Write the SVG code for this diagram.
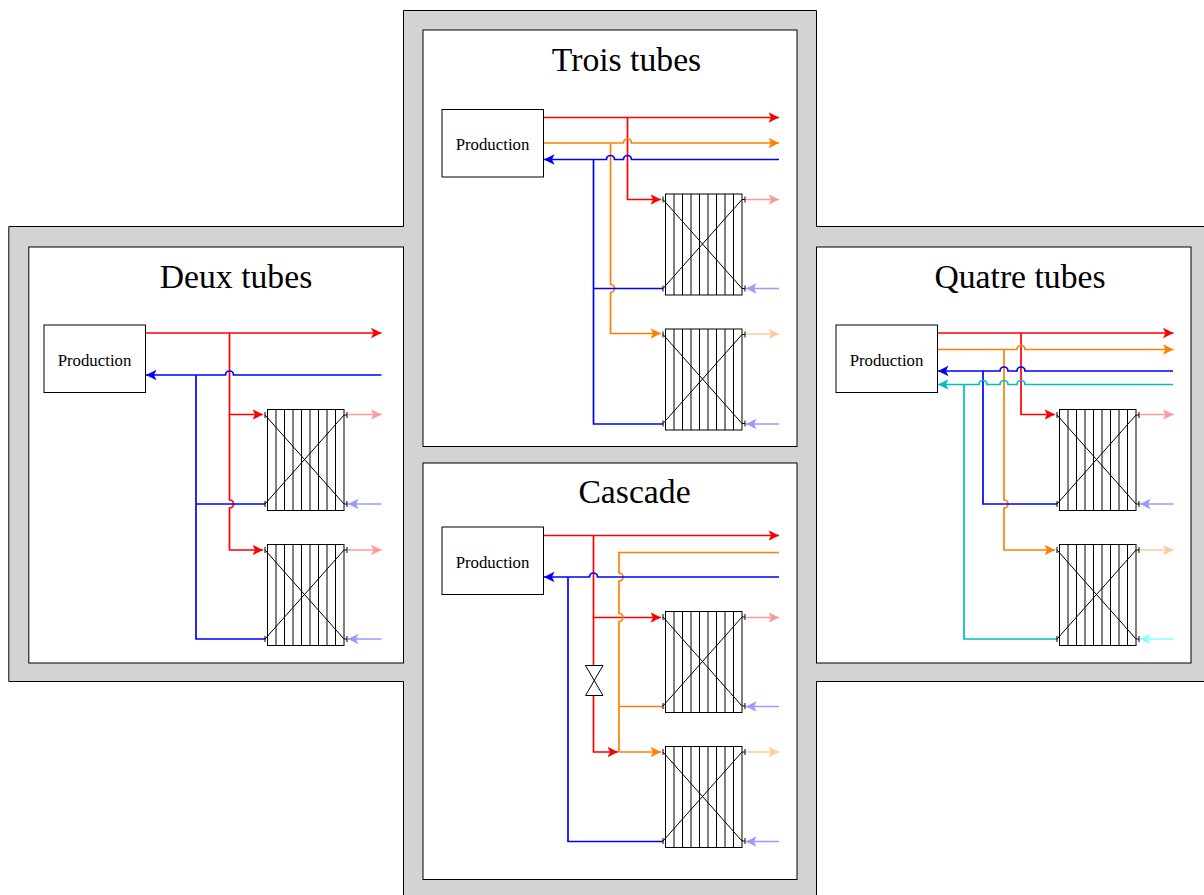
<svg xmlns="http://www.w3.org/2000/svg" width="1204" height="895" viewBox="0 0 1204 895">
<style>
.panel{fill:#fff;stroke:#000;stroke-width:1}
.box{fill:#fff;stroke:#000;stroke-width:1}
.title{font-family:"Liberation Serif",serif;font-size:33.7px;text-anchor:middle;fill:#000}
.lbl{font-family:"Liberation Serif",serif;font-size:16.8px;text-anchor:middle;fill:#000}
.c{fill:none;stroke-width:1.7}
.r{stroke:#f00}.o{stroke:#ff8000}.b{stroke:#00f}.y{stroke:#00bfbf}
.lr{stroke:#f99}.lo{stroke:#fc9}.lb{stroke:#99f}.ly{stroke:#8ff}
.ar{marker-end:url(#mr)}.ao{marker-end:url(#mo)}.ab{marker-end:url(#mb)}.ay{marker-end:url(#my)}
.alr{marker-end:url(#mlr)}.alo{marker-end:url(#mlo)}.alb{marker-end:url(#mlb)}.aly{marker-end:url(#mly)}
</style>
<defs>
<marker id="mr" markerUnits="userSpaceOnUse" markerWidth="12" markerHeight="12" refX="10.5" refY="5.25" orient="auto"><path d="M0,0 L10.5,5.25 L0,10.5 L2.5,5.25z" fill="#f00"/></marker>
<marker id="mo" markerUnits="userSpaceOnUse" markerWidth="12" markerHeight="12" refX="10.5" refY="5.25" orient="auto"><path d="M0,0 L10.5,5.25 L0,10.5 L2.5,5.25z" fill="#ff8000"/></marker>
<marker id="mb" markerUnits="userSpaceOnUse" markerWidth="12" markerHeight="12" refX="10.5" refY="5.25" orient="auto"><path d="M0,0 L10.5,5.25 L0,10.5 L2.5,5.25z" fill="#00f"/></marker>
<marker id="my" markerUnits="userSpaceOnUse" markerWidth="12" markerHeight="12" refX="10.5" refY="5.25" orient="auto"><path d="M0,0 L10.5,5.25 L0,10.5 L2.5,5.25z" fill="#00bfbf"/></marker>
<marker id="mlr" markerUnits="userSpaceOnUse" markerWidth="12" markerHeight="12" refX="10.5" refY="5.25" orient="auto"><path d="M0,0 L10.5,5.25 L0,10.5 L2.5,5.25z" fill="#f99"/></marker>
<marker id="mlo" markerUnits="userSpaceOnUse" markerWidth="12" markerHeight="12" refX="10.5" refY="5.25" orient="auto"><path d="M0,0 L10.5,5.25 L0,10.5 L2.5,5.25z" fill="#fc9"/></marker>
<marker id="mlb" markerUnits="userSpaceOnUse" markerWidth="12" markerHeight="12" refX="10.5" refY="5.25" orient="auto"><path d="M0,0 L10.5,5.25 L0,10.5 L2.5,5.25z" fill="#99f"/></marker>
<marker id="mly" markerUnits="userSpaceOnUse" markerWidth="12" markerHeight="12" refX="10.5" refY="5.25" orient="auto"><path d="M0,0 L10.5,5.25 L0,10.5 L2.5,5.25z" fill="#8ff"/></marker>
<g id="rad" fill="none" stroke="#000" stroke-width="1">
<rect x="0" y="0" width="76.5" height="101" fill="#fff"/>
<path d="M8.5,0V101M17,0V101M25.5,0V101M34,0V101M42.5,0V101M51,0V101M59.5,0V101M68,0V101"/>
<path d="M-2.5,5.5L76.5,94.5H79.5M-2.5,94.5L76.5,5.5H79.5"/>
<path d="M-2.5,2.5V8.5M-2.5,91.5V97.5M79.5,2.5V8.5M79.5,91.5V97.5"/>
</g>
</defs>

<polygon id="frame" points="403.5,10.5 816.5,10.5 816.5,226.5 1210,226.5 1210,681.5 816.5,681.5 816.5,900 403.5,900 403.5,681.5 8.8,681.5 8.8,226.5 403.5,226.5" fill="#d3d3d3" stroke="#000" stroke-width="1"/>

<g id="panel-trois"><rect class="panel" x="423" y="30" width="374" height="416.5"/><text class="title" x="626.5" y="71">Trois tubes</text></g>
<g id="panel-cascade"><rect class="panel" x="423" y="463" width="374" height="416.5"/><text class="title" x="634.5" y="503">Cascade</text></g>
<g id="panel-deux"><rect class="panel" x="28.8" y="247" width="374.7" height="416"/><text class="title" x="236" y="288">Deux tubes</text></g>
<g id="panel-quatre"><rect class="panel" x="816.5" y="247" width="374.5" height="416"/><text class="title" x="1020" y="288">Quatre tubes</text></g>

<g id="connectors">
<!-- Trois -->
<path class="c r ar" d="M544,117.5H779"/>
<path class="c r ar" d="M627.5,117.5V199.5H661"/>
<path class="c o ao" d="M544,143H623.5a4,4 0 0 1 8,0H779"/>
<path class="c o ao" d="M610.5,143V284.5a4,4 0 0 1 0,8V333.5H661"/>
<path class="c b ab" d="M779,159.5H631.5a4,4 0 0 0 -8,0H614.5a4,4 0 0 0 -8,0H544"/>
<path class="c b" d="M593.5,159.5V424H663"/>
<path class="c b" d="M593.5,288.5H663"/>
<path class="c lr alr" d="M746,199.5H779"/><path class="c lb alb" d="M779,288.5H746"/>
<path class="c lo alo" d="M746,334H779"/><path class="c lb alb" d="M779,424H746"/>
<!-- Deux -->
<path class="c r ar" d="M146,333H381.5"/>
<path class="c r ar" d="M229.5,333V414.5H263"/>
<path class="c r ar" d="M229.5,414.5V500a4,4 0 0 1 0,8V550H263"/>
<path class="c b ab" d="M381.5,375H233.5a4,4 0 0 0 -8,0H146"/>
<path class="c b" d="M196,375V639H265"/>
<path class="c b" d="M196,504H265"/>
<path class="c lr alr" d="M348,414.5H381.5"/><path class="c lb alb" d="M381.5,504H348"/>
<path class="c lr alr" d="M348,550H381.5"/><path class="c lb alb" d="M381.5,639H348"/>
<!-- Quatre -->
<path class="c r ar" d="M938,333H1173.5"/>
<path class="c r ar" d="M1021,333V414.5H1055"/>
<path class="c o ao" d="M938,349.5H1017a4,4 0 0 1 8,0H1173.5"/>
<path class="c o ao" d="M1004,349.5V500a4,4 0 0 1 0,8V550H1055"/>
<path class="c b ab" d="M1173,371H1025a4,4 0 0 0 -8,0H1008a4,4 0 0 0 -8,0H938"/>
<path class="c b" d="M983,371V504H1057"/>
<path class="c y ay" d="M1173,384.5H1025a4,4 0 0 0 -8,0H1008a4,4 0 0 0 -8,0H987a4,4 0 0 0 -8,0H938"/>
<path class="c y" d="M964,384.5V639H1057"/>
<path class="c lr alr" d="M1140,414.5H1173.5"/><path class="c lb alb" d="M1173.5,504H1140"/>
<path class="c lo alo" d="M1140,550H1173.5"/><path class="c ly aly" d="M1173.5,639H1140"/>
<!-- Cascade -->
<path class="c r ar" d="M544,535.5H779"/>
<path class="c r ar" d="M593.5,535.5V617.5H661"/>
<path class="c r" d="M593.5,617.5V666"/>
<path class="c r ar" d="M593.5,695V752H618"/>
<path class="c o" d="M779,552.5H619V573a4,4 0 0 1 0,8V613.5a4,4 0 0 1 0,8V752"/>
<path class="c o ao" d="M619,752H661"/>
<path class="c o" d="M619,706.5H663"/>
<path class="c b ab" d="M779,577H597.5a4,4 0 0 0 -8,0H544"/>
<path class="c b" d="M568,577V841.5H663"/>
<path class="c lr alr" d="M746,617.5H779"/><path class="c lb alb" d="M779,706.5H746"/>
<path class="c lo alo" d="M746,752H779"/><path class="c lb alb" d="M779,841.5H746"/>
</g>

<g id="prod-trois"><rect class="box" x="442" y="109.5" width="101.5" height="67.5"/><text class="lbl" x="492.5" y="149.5">Production</text></g>
<g id="prod-cascade"><rect class="box" x="442" y="527" width="101.5" height="67.5"/><text class="lbl" x="492.5" y="567.5">Production</text></g>
<g id="prod-deux"><rect class="box" x="44" y="325" width="101.5" height="67.5"/><text class="lbl" x="94.5" y="365.5">Production</text></g>
<g id="prod-quatre"><rect class="box" x="836" y="325" width="101.5" height="67.5"/><text class="lbl" x="886.5" y="365.5">Production</text></g>

<g id="rad-t1"><use href="#rad" x="665.5" y="194"/></g>
<g id="rad-t2"><use href="#rad" x="665.5" y="329"/></g>
<g id="rad-c1"><use href="#rad" x="665.5" y="611.5"/></g>
<g id="rad-c2"><use href="#rad" x="665.5" y="746.5"/></g>
<g id="rad-d1"><use href="#rad" x="267.5" y="409.5"/></g>
<g id="rad-d2"><use href="#rad" x="267.5" y="544.5"/></g>
<g id="rad-q1"><use href="#rad" x="1059.5" y="409.5"/></g>
<g id="rad-q2"><use href="#rad" x="1059.5" y="544.5"/></g>

<g id="valve"><path d="M585.5,665.5H603L585.5,695.5H603Z" fill="#fff" stroke="#000" stroke-width="1"/></g>
</svg>
